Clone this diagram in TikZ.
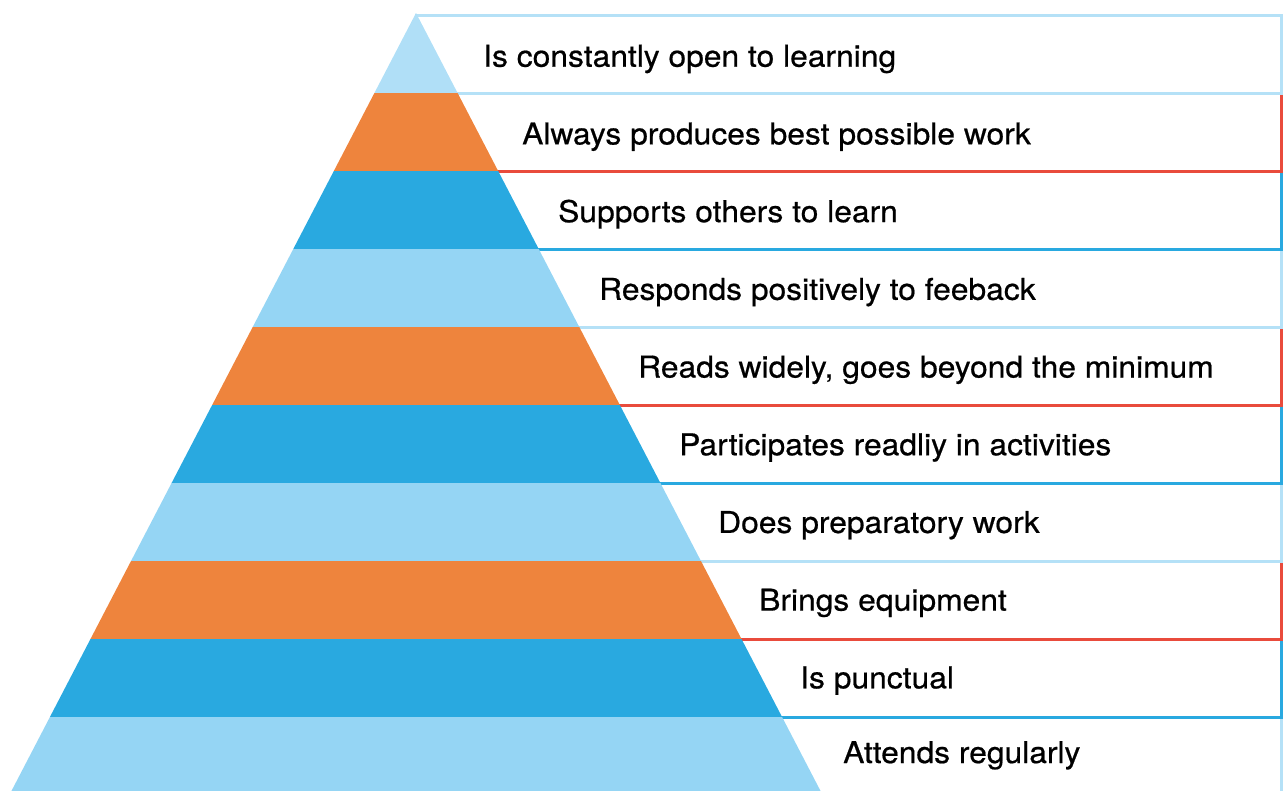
\documentclass[tikz,border=0pt]{standalone}
\usepackage{fontspec}
\setmainfont{TeX Gyre Heros}[FakeStretch=1.06, FakeBold=0.6]
\definecolor{ltop}{HTML}{B0DFF7}
\definecolor{lband}{HTML}{95D5F4}
\definecolor{oband}{HTML}{EE843D}
\definecolor{bband}{HTML}{29A9E0}
\definecolor{lline}{HTML}{B5E1F7}
\definecolor{rline}{HTML}{E94B3C}
\definecolor{bline}{HTML}{29A9E0}
\tikzset{
  boxline/.style={line width=3pt},
  label/.style={anchor=base west, inner sep=0pt, font=\fontsize{30}{36}\selectfont, text=black},
}
\begin{document}
\begin{tikzpicture}[x=1pt,y=-1pt]
\useasboundingbox (0,0) rectangle (1285,790);
\clip (0,0) rectangle (1285,790);
% boxes, drawn bottom to top
\foreach \t/\b/\c in {717/800/lline,639/717/bline,561/639/rline,483/561/lline,405/483/bline,327/405/rline,249/327/lline,171/249/bline,93/171/rline,15.5/93/lline}{
  \draw[boxline,draw=\c] (416,\t) rectangle (1281.5,\b);
}
% pyramid bands
\foreach \t/\b/\c in {13/93/ltop,93/171/oband,171/249/bband,249/327/lband,327/405/oband,405/483/bband,483/561/lband,561/639/oband,639/717/bband,717/800/lband}{
  \pgfmathsetmacro\lt{416-0.52*(\t-13)}
  \pgfmathsetmacro\rt{416+0.52*(\t-13)}
  \pgfmathsetmacro\lb{416-0.52*(\b-13)}
  \pgfmathsetmacro\rb{416+0.52*(\b-13)}
  \fill[\c] (\lt,\t) -- (\rt,\t) -- (\rb,\b) -- (\lb,\b) -- cycle;
}
% labels
\node[label] (t0) at (483,66.7) {Is constantly open to learning};
\node[label] (t1) at (522,144.4) {Always produces best possible work};
\node[label] (t2) at (558,222.1) {Supports others to learn};
\node[label] (t3) at (599,299.8) {Responds positively to feeback};
\node[label] (t4) at (638,377.5) {Reads widely, goes beyond the minimum};
\node[label] (t5) at (679,455.2) {Participates readliy in activities};
\node[label] (t6) at (718,532.9) {Does preparatory work};
\node[label] (t7) at (759,610.6) {Brings equipment};
\node[label] (t8) at (800,688.3) {Is punctual};
\node[label] (t9) at (843,763) {Attends regularly};
\end{tikzpicture}
\end{document}
